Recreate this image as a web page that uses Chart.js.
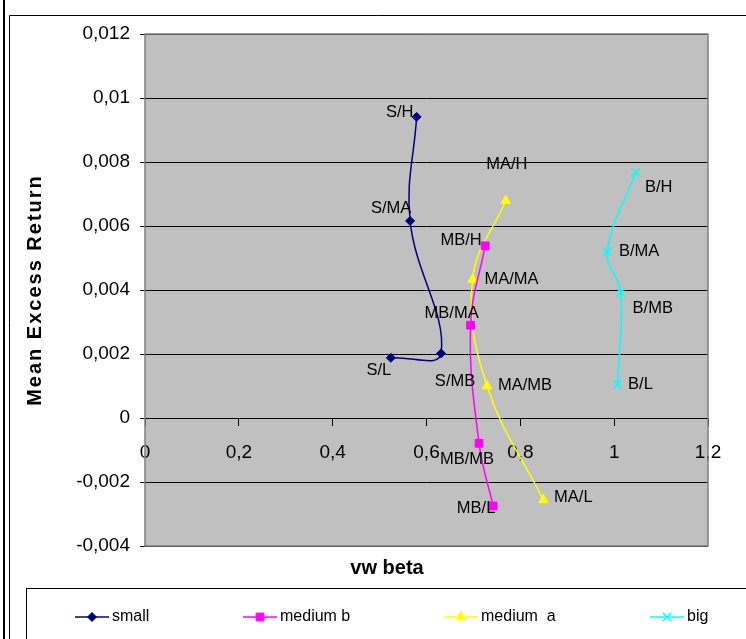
<!DOCTYPE html>
<html>
<head>
<meta charset="utf-8">
<script src="https://cdn.jsdelivr.net/npm/chart.js@4/dist/chart.umd.min.js"></script>
<style>
  html, body { margin: 0; padding: 0; background: #fff; }
  canvas { display: block; }
</style>
</head>
<body>
<canvas id="myChart" width="746" height="639"></canvas>
<script>
const xTickLabels = ['0', '0,2', '0,4', '0,6', '0,8', '1', '1,2'];
const yTickLabels = ['-0,004', '-0,002', '0', '0,002', '0,004', '0,006', '0,008', '0,01', '0,012'];

const smallNames = ['S/H', 'S/MA', 'S/MB', 'S/L'];
const smallBeta = [0.579, 0.565, 0.631, 0.524];
const smallReturn = [0.00941, 0.00616, 0.00202, 0.00188];

const mediumBNames = ['MB/H', 'MB/MA', 'MB/MB', 'MB/L'];
const mediumBBeta = [0.725, 0.694, 0.712, 0.742];
const mediumBReturn = [0.00538, 0.0029, -0.00079, -0.00275];

const mediumANames = ['MA/H', 'MA/MA', 'MA/MB', 'MA/L'];
const mediumABeta = [0.769, 0.698, 0.729, 0.849];
const mediumAReturn = [0.00679, 0.00433, 0.0010, -0.00256];

const bigNames = ['B/H', 'B/MA', 'B/MB', 'B/L'];
const bigBeta = [1.046, 0.985, 1.014, 1.007];
const bigReturn = [0.00767, 0.0052, 0.00393, 0.00105];

// where each point label sits relative to its marker (px)
const labelShift = [
  [[-17, -4], [-19, -12], [14, 28], [-12, 13]],
  [[-24, -5], [-19, -12], [-12, 16], [-17, 2]],
  [[1, -36], [39, 0], [38, -1], [30, -2]],
  [[23, 15], [32, 0], [32, 16], [23, 0]]
];

const FONT = "'Liberation Sans', Arial, sans-serif";

function points(xs, ys) {
  return xs.map((x, i) => ({ x: x, y: ys[i] }));
}

function series(label, names, xs, ys, color, style, radius) {
  return {
    label: label,
    names: names,
    data: points(xs, ys),
    showLine: true,
    tension: 0.4,
    borderColor: color,
    backgroundColor: color,
    borderWidth: 1.5,
    pointStyle: style,
    pointRadius: radius,
    pointHoverRadius: radius,
    pointBorderWidth: style === 'crossRot' ? 1.5 : 1
  };
}

const plotFrame = {
  id: 'plotFrame',
  beforeDraw(chart) {
    const { ctx, chartArea: a } = chart;
    ctx.save();
    ctx.fillStyle = '#c0c0c0';
    ctx.fillRect(a.left, a.top, a.right - a.left, a.bottom - a.top);
    ctx.restore();
  },
  beforeDatasetsDraw(chart) {
    const { ctx, chartArea: a } = chart;
    ctx.save();
    ctx.strokeStyle = '#808080';
    ctx.lineWidth = 1.5;
    ctx.strokeRect(a.left, a.top, a.right - a.left, a.bottom - a.top);
    ctx.restore();
  },
  afterDatasetsDraw(chart) {
    const ctx = chart.ctx;
    ctx.save();
    ctx.fillStyle = '#000';
    ctx.font = '16.5px ' + FONT;
    ctx.textAlign = 'center';
    ctx.textBaseline = 'middle';
    chart.data.datasets.forEach((ds, di) => {
      chart.getDatasetMeta(di).data.forEach((pt, i) => {
        const s = labelShift[di][i];
        ctx.fillText(ds.names[i], pt.x + s[0], pt.y + s[1]);
      });
    });
    ctx.restore();
  },
  afterDraw(chart) {
    const ctx = chart.ctx;
    ctx.save();
    // frames
    ctx.strokeStyle = '#000';
    ctx.lineWidth = 2;
    ctx.beginPath();
    ctx.moveTo(4, 0); ctx.lineTo(4, 639);
    ctx.stroke();
    ctx.lineWidth = 1;
    ctx.beginPath();
    ctx.moveTo(9.5, 639); ctx.lineTo(9.5, 15.5); ctx.lineTo(746, 15.5);
    ctx.stroke();
    ctx.strokeRect(26.5, 588.5, 740, 80);

    // axis titles
    ctx.fillStyle = '#000';
    ctx.textAlign = 'center';
    ctx.textBaseline = 'middle';
    ctx.font = 'bold 20px ' + FONT;
    ctx.fillText('vw beta', 387, 568);
    ctx.save();
    ctx.translate(35, 290);
    ctx.rotate(-Math.PI / 2);
    ctx.letterSpacing = '2px';
    ctx.fillText('Mean Excess Return', 0, 0);
    ctx.restore();

    // legend
    const slots = [75, 243, 444, 650];
    const ly = 617;
    ctx.font = '16px ' + FONT;
    ctx.textAlign = 'left';
    chart.data.datasets.forEach((ds, i) => {
      const x0 = slots[i];
      ctx.strokeStyle = ds.borderColor;
      ctx.fillStyle = ds.backgroundColor;
      ctx.lineWidth = 1.5;
      ctx.beginPath();
      ctx.moveTo(x0, ly); ctx.lineTo(x0 + 34, ly);
      ctx.stroke();
      ctx.lineWidth = ds.pointBorderWidth;
      Chart.helpers.drawPoint(ctx, {
        pointStyle: ds.pointStyle,
        radius: ds.pointRadius,
        rotation: 0,
        borderWidth: ds.pointBorderWidth
      }, x0 + 17, ly);
      ctx.fillStyle = '#000';
      ctx.fillText(ds.label, x0 + 37, ly);
    });
    ctx.restore();
  }
};

const ctx = document.getElementById('myChart');

new Chart(ctx, {
  type: 'scatter',
  data: {
    datasets: [
      series('small', smallNames, smallBeta, smallReturn, '#000080', 'rectRot', 4.5),
      series('medium b', mediumBNames, mediumBBeta, mediumBReturn, '#ff00ff', 'rect', 5.5),
      series('medium  a', mediumANames, mediumABeta, mediumAReturn, '#ffff00', 'triangle', 5.5),
      series('big', bigNames, bigBeta, bigReturn, '#00ffff', 'crossRot', 6)
    ]
  },
  options: {
    responsive: false,
    animation: false,
    devicePixelRatio: 1,
    layout: { padding: { left: 0, top: 34, right: 38, bottom: 93 } },
    plugins: {
      legend: { display: false },
      tooltip: { enabled: false }
    },
    scales: {
      x: {
        type: 'linear',
        min: 0,
        max: 1.2,
        position: { y: 0 },
        ticks: {
          stepSize: 0.2,
          autoSkip: false,
          maxRotation: 0,
          padding: 16,
          color: '#000',
          font: { family: FONT, size: 19 },
          callback: (v, i) => xTickLabels[i]
        },
        grid: { drawOnChartArea: false, drawTicks: true, tickLength: 7, color: '#000' },
        border: { display: true, color: '#000', width: 1 }
      },
      y: {
        min: -0.004,
        max: 0.012,
        ticks: {
          stepSize: 0.002,
          padding: 10,
          color: '#000',
          font: { family: FONT, size: 19 },
          callback: (v, i) => yTickLabels[i]
        },
        grid: { color: '#000', tickLength: 5 },
        border: { display: false },
        afterFit: s => { s.width = 145; }
      }
    }
  },
  plugins: [plotFrame]
});
</script>
</body>
</html>
